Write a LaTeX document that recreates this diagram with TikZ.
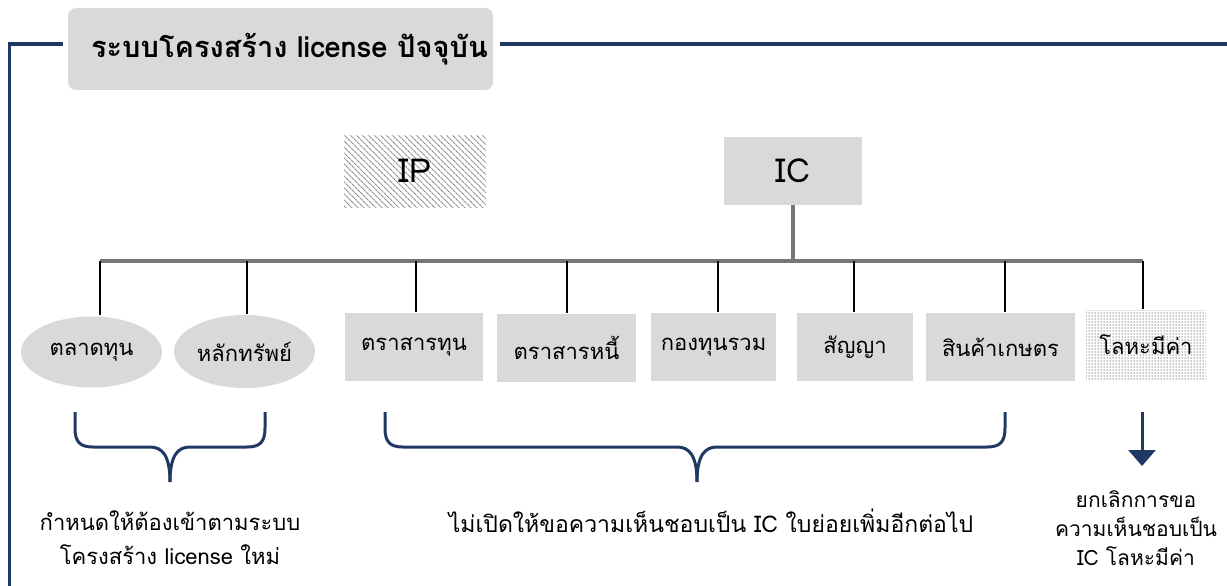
\documentclass[tikz,border=0pt]{standalone}
\usepackage{fontspec}
\setmainfont[Script=Thai]{Loma}
\usetikzlibrary{patterns.meta,arrows.meta,shapes.geometric}
\definecolor{navy}{RGB}{31,56,100}
\definecolor{boxgray}{RGB}{217,217,217}
\definecolor{bargray}{RGB}{118,118,118}
\begin{document}
\begin{tikzpicture}[x=1pt,y=-1pt,
  lbl/.style={font=\fontsize{22}{26}\selectfont, text=black, inner sep=0pt},
  graybox/.style={rectangle, fill=boxgray, inner sep=0pt, lbl},
  grayell/.style={ellipse, fill=boxgray, inner sep=0pt, lbl},
  bigtxt/.style={font=\fontsize{33}{40}\selectfont},
  frameline/.style={draw=navy, line width=3.5pt},
  barline/.style={draw=bargray, line width=3.5pt},
  dropline/.style={draw=black, line width=2.5pt, shorten >=1pt},
  bracestyle/.style={draw=navy, line width=3pt},
  arrowstyle/.style={draw=navy, line width=3pt, -{Triangle[width=27pt,length=16pt]}},
  note/.style={align=center, inner sep=0pt}
]
\useasboundingbox (0,0) rectangle (1227,586);
\fill[white] (0,0) rectangle (1227,586);

% title and frame
\node[rectangle, fill=boxgray, rounded corners=8pt, minimum width=425pt, minimum height=82pt,
      font=\fontsize{29}{33}\selectfont\bfseries] (title) at (280.5,49) {\hspace*{18pt}ระบบโครงสร้าง license ปัจจุบัน};
\coordinate (fa) at (63,44);
\coordinate (fd) at (9.5,44);
\coordinate (fe) at (9.5,590);
\coordinate (fb) at (500,44);
\coordinate (fc) at (1230,44);
\draw[frameline] (fa) -- (fd) -- (fe);
\draw[frameline] (fb) -- (fc);

% top nodes
\node[rectangle, pattern={Lines[angle=-45,distance=4pt,line width=1.2pt]}, pattern color=gray!85,
      minimum width=142pt, minimum height=72pt, inner sep=0pt, bigtxt] (ip) at (415,171) {IP};
\node[graybox, minimum width=138pt, minimum height=68pt, bigtxt] (ic) at (793,170.5) {IC};

% bar
\coordinate (bar) at (793,261);
\coordinate (b1) at (100,261);
\coordinate (b2) at (247,261);
\coordinate (b3) at (416,261);
\coordinate (b4) at (567,261);
\coordinate (b5) at (718,261);
\coordinate (b6) at (854,261);
\coordinate (b7) at (1005,261);
\coordinate (b8) at (1143,261);
\draw[barline] (ic.south) -- (bar);
\draw[barline] (b1) -- (b8);

% second-level nodes
\node[grayell, minimum width=141pt, minimum height=71pt] (n1) at (91.5,352) {ตลาดทุน};
\node[grayell, minimum width=141pt, minimum height=73pt] (n2) at (244.5,351.5) {หลักทรัพย์};
\node[graybox, minimum width=138pt, minimum height=68pt] (n3) at (414,347) {ตราสารทุน};
\node[graybox, minimum width=139pt, minimum height=68pt] (n4) at (566.5,348) {ตราสารหนี้};
\node[graybox, minimum width=125pt, minimum height=68pt] (n5) at (713.5,347) {กองทุนรวม};
\node[graybox, minimum width=116pt, minimum height=68pt] (n6) at (855,347) {สัญญา};
\node[graybox, minimum width=149pt, minimum height=68pt] (n7) at (1000.5,347) {สินค้าเกษตร};
\node[rectangle, pattern={Dots[distance=3pt,radius=0.75pt]}, pattern color=gray!90,
      minimum width=120pt, minimum height=70pt, inner sep=0pt, lbl] (n8) at (1146,345) {โลหะมีค่า};

\draw[dropline] (b1) -- (b1 |- n1.north);
\draw[dropline] (b2) -- (b2 |- n2.north);
\draw[dropline] (b3) -- (b3 |- n3.north);
\draw[dropline] (b4) -- (b4 |- n4.north);
\draw[dropline] (b5) -- (b5 |- n5.north);
\draw[dropline] (b6) -- (b6 |- n6.north);
\draw[dropline] (b7) -- (b7 |- n7.north);
\draw[dropline] (b8) -- (b8 |- n8.north);

% braces
\draw[bracestyle] (75,412) -- (75,428) .. controls (75,442) and (80,447) .. (93,447) -- (150,447)
  .. controls (162,447) and (170,455) .. (170,482);
\draw[bracestyle] (265,412) -- (265,428) .. controls (265,442) and (260,447) .. (247,447) -- (190,447)
  .. controls (178,447) and (170,455) .. (170,482);
\draw[bracestyle] (385,412) -- (385,428) .. controls (385,442) and (390,447) .. (403,447) -- (677,447)
  .. controls (689,447) and (697,455) .. (697,482);
\draw[bracestyle] (1005,412) -- (1005,428) .. controls (1005,442) and (1000,447) .. (987,447) -- (717,447)
  .. controls (705,447) and (697,455) .. (697,482);

% arrow
\coordinate (a1) at (1142,412);
\coordinate (a2) at (1142,466);
\draw[arrowstyle] (a1) -- (a2);

% notes
\node[note, font=\fontsize{22}{34}\selectfont] (t1) at (170,538) {กำหนดให้ต้องเข้าตามระบบ\\โครงสร้าง license ใหม่};
\node[note, font=\fontsize{23}{30}\selectfont] (t2) at (711,521) {ไม่เปิดให้ขอความเห็นชอบเป็น IC ใบย่อยเพิ่มอีกต่อไป};
\node[note, font=\fontsize{21}{29}\selectfont] (t3) at (1136,528) {ยกเลิกการขอ\\ความเห็นชอบเป็น\\IC โลหะมีค่า};
\end{tikzpicture}
\end{document}
